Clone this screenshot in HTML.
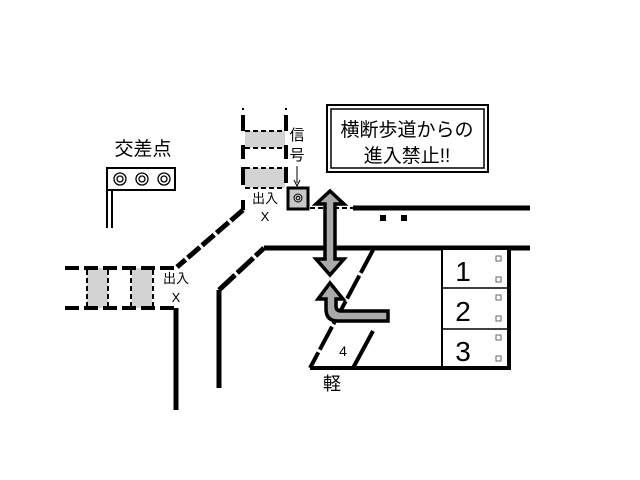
<!DOCTYPE html>
<html><head><meta charset="utf-8"><style>
body{margin:0;background:#fff}
svg{display:block}
text{font-family:"Liberation Sans","Noto Sans CJK JP",sans-serif;fill:#000}
</style></head><body>
<svg width="640" height="480" viewBox="0 0 640 480" xmlns="http://www.w3.org/2000/svg">
<!-- sign -->
<rect x="327" y="105" width="161" height="67" fill="#fff" stroke="#000" stroke-width="2"/>
<rect x="331" y="109" width="153" height="59" fill="none" stroke="#000" stroke-width="1.5"/>
<text x="407" y="136" font-size="19" text-anchor="middle">横断歩道からの</text>
<text x="407" y="162" font-size="19" text-anchor="middle">進入禁止!!</text>

<!-- traffic light -->
<text x="143" y="155" font-size="19" text-anchor="middle">交差点</text>
<rect x="107" y="168" width="68" height="22" fill="#fff" stroke="#000" stroke-width="2"/>
<line x1="107" y1="168" x2="107" y2="228" stroke="#000" stroke-width="2"/>
<line x1="112" y1="190" x2="112" y2="228" stroke="#000" stroke-width="2"/>
<g fill="none" stroke="#000" stroke-width="1.3">
<circle cx="120" cy="179" r="6"/><circle cx="120" cy="179" r="3"/>
<circle cx="142" cy="179" r="6"/><circle cx="142" cy="179" r="3"/>
<circle cx="164" cy="179" r="6"/><circle cx="164" cy="179" r="3"/>
</g>

<!-- upper crosswalk -->
<rect x="245" y="131" width="40" height="17" fill="#d3d3d3"/>
<rect x="245" y="168" width="40" height="20" fill="#d3d3d3"/>
<g stroke="#000" stroke-width="2" stroke-dasharray="5,3">
<line x1="245" y1="131" x2="285" y2="131"/><line x1="245" y1="148" x2="285" y2="148"/>
<line x1="245" y1="168" x2="285" y2="168"/><line x1="245" y1="188" x2="285" y2="188"/>
</g>
<g stroke="#000" stroke-width="4">
<line x1="243" y1="115" x2="243" y2="131"/><line x1="243" y1="145" x2="243" y2="159"/>
<line x1="243" y1="167" x2="243" y2="185"/><line x1="243" y1="200" x2="243" y2="210"/>
<line x1="286" y1="115" x2="286" y2="131"/><line x1="286" y1="145" x2="286" y2="159"/>
<line x1="286" y1="167" x2="286" y2="183"/>
</g>
<line x1="243" y1="108" x2="243" y2="110" stroke="#000" stroke-width="2"/>
<line x1="286" y1="108" x2="286" y2="110" stroke="#000" stroke-width="2"/>
<text x="297" y="140" font-size="15" text-anchor="middle">信</text>
<text x="297" y="160" font-size="15" text-anchor="middle">号</text>
<line x1="297" y1="166" x2="297" y2="183" stroke="#000" stroke-width="1"/>
<path d="M294,180 L297,186 L300,180" fill="none" stroke="#000" stroke-width="1"/>
<rect x="288" y="188" width="20" height="21" fill="#c8c8c8" stroke="#000" stroke-width="3"/>
<circle cx="298" cy="198" r="4" fill="none" stroke="#000" stroke-width="1"/>
<circle cx="298" cy="198" r="1.8" fill="none" stroke="#000" stroke-width="1"/>
<text x="265" y="203" font-size="13" text-anchor="middle">出入</text>
<text x="265" y="221" font-size="13" text-anchor="middle">X</text>

<!-- diagonal road edge -->
<line x1="243" y1="210" x2="177" y2="267" stroke="#000" stroke-width="5" stroke-dasharray="16,3"/>
<!-- top road line -->
<line x1="310" y1="208" x2="353" y2="208" stroke="#000" stroke-width="2" stroke-dasharray="5,3"/>
<line x1="353" y1="208" x2="530" y2="208" stroke="#000" stroke-width="5"/>
<rect x="380" y="215" width="6" height="6" fill="#000"/>
<rect x="401" y="215" width="6" height="6" fill="#000"/>
<line x1="219" y1="388" x2="219" y2="290" stroke="#000" stroke-width="5"/>
<line x1="219" y1="290" x2="264" y2="248" stroke="#000" stroke-width="5" stroke-dasharray="22,3"/>
<line x1="264" y1="248" x2="530" y2="248" stroke="#000" stroke-width="5"/>

<!-- left crosswalk -->
<rect x="87" y="268" width="21" height="40" fill="#d3d3d3"/>
<rect x="132" y="268" width="20" height="40" fill="#d3d3d3"/>
<g stroke="#000" stroke-width="2" stroke-dasharray="5,3">
<line x1="87" y1="270" x2="87" y2="306"/><line x1="108" y1="270" x2="108" y2="306"/>
<line x1="131" y1="270" x2="131" y2="306"/><line x1="153" y1="270" x2="153" y2="306"/>
</g>
<g stroke="#000" stroke-width="4" stroke-dasharray="14,5">
<line x1="65" y1="268" x2="178" y2="268"/>
<line x1="65" y1="308" x2="178" y2="308"/>
</g>
<line x1="176" y1="308" x2="176" y2="410" stroke="#000" stroke-width="5"/>
<text x="176" y="283" font-size="13" text-anchor="middle">出入</text>
<text x="176" y="302" font-size="13" text-anchor="middle">X</text>

<!-- parking 4 -->
<line x1="373" y1="250" x2="310" y2="368" stroke="#000" stroke-width="4" stroke-dasharray="26,3"/>
<line x1="373" y1="331" x2="353" y2="368" stroke="#000" stroke-width="4"/>
<text x="343" y="356" font-size="14" text-anchor="middle">4</text>
<text x="332" y="390" font-size="18" text-anchor="middle">軽</text>

<!-- parking 1-3 -->
<rect x="442" y="249" width="67" height="119" fill="#fff" stroke="#000" stroke-width="2"/>
<line x1="509" y1="249" x2="509" y2="370" stroke="#000" stroke-width="4"/>
<line x1="442" y1="288" x2="509" y2="288" stroke="#000" stroke-width="1.5"/>
<line x1="442" y1="329" x2="509" y2="329" stroke="#000" stroke-width="1.5"/>
<line x1="310" y1="368" x2="510" y2="368" stroke="#000" stroke-width="4"/>
<text x="463" y="281" font-size="28" text-anchor="middle">1</text>
<text x="463" y="321" font-size="28" text-anchor="middle">2</text>
<text x="463" y="361" font-size="28" text-anchor="middle">3</text>
<g fill="none" stroke="#666" stroke-width="1">
<rect x="496" y="256" width="5" height="5"/><rect x="496" y="277" width="5" height="5"/>
<rect x="496" y="295" width="5" height="5"/><rect x="496" y="316" width="5" height="5"/>
<rect x="496" y="335" width="5" height="5"/><rect x="496" y="356" width="5" height="5"/>
</g>

<!-- double arrow -->
<path d="M330,191 L344,204 L335,204 L335,259 L344,259 L330,275 L316,259 L325,259 L325,204 L316,204 Z" fill="#aaa" stroke="#000" stroke-width="3.5"/>
<!-- U arrow -->
<path d="M330,283 L343,299 L336,299 L336,306 Q336,311 341,311 L388,311 L388,321 L338,321 Q326,321 326,309 L326,299 L318,299 Z" fill="#aaa" stroke="#000" stroke-width="3.5"/>
</svg>
</body></html>
